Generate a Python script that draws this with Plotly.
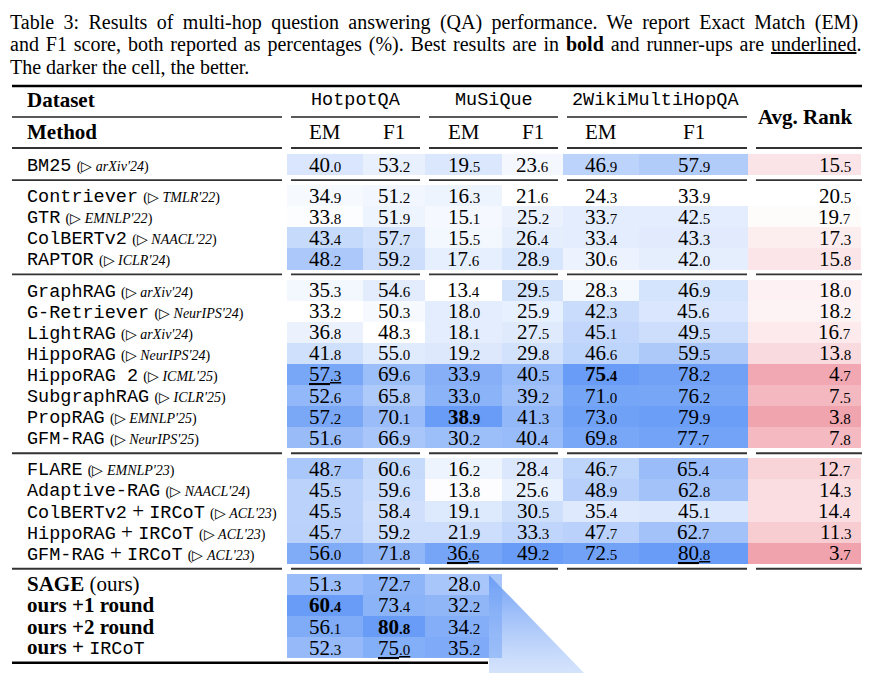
import plotly.graph_objects as go

# Table rows (in order, grouped)
methods = ["BM25",
           "Contriever", "GTR", "ColBERTv2", "RAPTOR",
           "GraphRAG", "G-Retriever", "LightRAG", "HippoRAG", "HippoRAG 2",
           "SubgraphRAG", "PropRAG", "GFM-RAG",
           "FLARE", "Adaptive-RAG", "ColBERTv2 + IRCoT", "HippoRAG + IRCoT", "GFM-RAG + IRCoT",
           "SAGE", "ours +1 round", "ours +2 round", "ours + IRCoT"]
venues = ["arXiv'24",
          "TMLR'22", "EMNLP'22", "NAACL'22", "ICLR'24",
          "arXiv'24", "NeurIPS'24", "arXiv'24", "NeurIPS'24", "ICML'25",
          "ICLR'25", "EMNLP'25", "NeurIPS'25",
          "EMNLP'23", "NAACL'24", "ACL'23", "ACL'23", "ACL'23",
          None, None, None, None]
group_sizes = [1, 4, 8, 5, 4]

hotpot_em = [40.0, 34.9, 33.8, 43.4, 48.2, 35.3, 33.2, 36.8, 41.8, 57.3, 52.6, 57.2, 51.6,
             48.7, 45.5, 45.5, 45.7, 56.0, 51.3, 60.4, 56.1, 52.3]
hotpot_f1 = [53.2, 51.2, 51.9, 57.7, 59.2, 54.6, 50.3, 48.3, 55.0, 69.6, 65.8, 70.1, 66.9,
             60.6, 59.6, 58.4, 59.2, 71.8, 72.7, 73.4, 80.8, 75.0]
musique_em = [19.5, 16.3, 15.1, 15.5, 17.6, 13.4, 18.0, 18.1, 19.2, 33.9, 33.0, 38.9, 30.2,
              16.2, 13.8, 19.1, 21.9, 36.6, 28.0, 32.2, 34.2, 35.2]
musique_f1 = [23.6, 21.6, 25.2, 26.4, 28.9, 29.5, 25.9, 27.5, 29.8, 40.5, 39.2, 41.3, 40.4,
              28.4, 25.6, 30.5, 33.3, 49.2, None, None, None, None]
wiki_em = [46.9, 24.3, 33.7, 33.4, 30.6, 28.3, 42.3, 45.1, 46.6, 75.4, 71.0, 73.0, 69.8,
           46.7, 48.9, 35.4, 47.7, 72.5, None, None, None, None]
wiki_f1 = [57.9, 33.9, 42.5, 43.3, 42.0, 46.9, 45.6, 49.5, 59.5, 78.2, 76.2, 79.9, 77.7,
           65.4, 62.8, 45.1, 62.7, 80.8, None, None, None, None]
avg_rank = [15.5, 20.5, 19.7, 17.3, 15.8, 18.0, 18.2, 16.7, 13.8, 4.7, 7.5, 3.8, 7.8,
            12.7, 14.3, 14.4, 11.3, 3.7, None, None, None, None]

datasets = ["HotpotQA", "MuSiQue", "2WikiMultiHopQA"]
metrics = ["EM", "F1", "EM", "F1", "EM", "F1"]

# best (bold) and runner-up (underlined): (row, column index)
bold_cells = [(19, 0), (20, 1), (11, 2), (9, 4)]
under_cells = [(9, 0), (21, 1), (17, 2), (17, 5)]

caption = [
    "Table 3: Results of multi-hop question answering (QA) performance. We report Exact Match (EM)",
    "and F1 score, both reported as percentages (%). Best results are in <b>bold</b> and runner-ups are <u>underlined</u>.",
    "The darker the cell, the better.",
]

SERIF = "Liberation Serif"
MONO = "Liberation Mono"

# geometry (pixel-like axis units)
col_edges = [287, 363, 425, 502, 563, 639, 748]
rank_edges = [748, 861]
row_h = 21.1
gap = 10
first_center = 164.5
segs = [(12, 282), (291, 420), (429, 558), (567, 747), (756, 862)]

# row layout
centers = []
y_edges = [first_center - row_h / 2]
row_map = []
sep_ys = []
y = y_edges[0]
i = 0
for gi, size in enumerate(group_sizes):
    for k in range(size):
        centers.append(y + row_h / 2)
        y += row_h
        y_edges.append(y)
        row_map.append(i)
        i += 1
    if gi < len(group_sizes) - 1:
        sep_ys.append(y + gap / 2)
        y += gap
        y_edges.append(y)
        row_map.append(None)
bottom_y = y + 4.5

blue_cols = [hotpot_em, hotpot_f1, musique_em, musique_f1, wiki_em, wiki_f1]


def norm(col, reverse=False):
    vals = [v for v in col if v is not None]
    lo, hi = min(vals), max(vals)
    out = []
    for v in col:
        if v is None:
            out.append(None)
        elif reverse:
            out.append((hi - v) / (hi - lo))
        else:
            out.append((v - lo) / (hi - lo))
    return out


normed = [norm(c) for c in blue_cols]
rank_n = norm(avg_rank, reverse=True)
z_blue = [[normed[c][r] for c in range(6)] if r is not None else [None] * 6 for r in row_map]
z_rank = [[rank_n[r]] if r is not None else [None] for r in row_map]

fig = go.Figure()
fig.add_trace(go.Heatmap(x=col_edges, y=y_edges, z=z_blue, zmin=0, zmax=1,
                         colorscale=[[0, "#ffffff"], [1, "rgb(104,156,246)"]],
                         showscale=False, hoverinfo="skip"))
fig.add_trace(go.Heatmap(x=rank_edges, y=y_edges, z=z_rank, zmin=0, zmax=1,
                         colorscale=[[0, "#ffffff"], [1, "rgb(240,163,173)"]],
                         showscale=False, hoverinfo="skip"))

# page-curl artefact at the bottom
fig.add_trace(go.Scatter(x=[489, 584, 489, 489], y=[575, 673, 673, 575], mode="lines",
                         line=dict(width=0), fill="toself",
                         fillgradient=dict(type="vertical",
                                           colorscale=[[0, "rgba(185,210,250,0.6)"],
                                                       [1, "rgba(105,155,245,0.95)"]]),
                         hoverinfo="skip"))

ann = []


def num_text(v, bold=False, under=False):
    s = f"{v:.1f}"
    a, b = s.split(".")
    t = f"{a}<span style='font-size:15px'>.{b}</span>"
    if bold:
        t = f"<b>{t}</b>"
    if under:
        t = f"<u>{t}</u>"
    return t


def method_text(name, venue):
    if name == "SAGE":
        return "<b>SAGE</b> (ours)"
    if name == "ours + IRCoT":
        return f"<b>ours +</b> <span style='font-family:{MONO};font-size:18.5px'>IRCoT</span>"
    if name.startswith("ours"):
        return f"<b>{name}</b>"
    parts = [f"<span style='font-family:{MONO};font-size:18.5px'>{p}</span>" for p in name.split(" + ")]
    t = " + ".join(parts)
    return t + f" <span style='font-size:14px'>(▷ <i>{venue}</i>)</span>"


for r in range(len(methods)):
    yc = centers[r]
    ann.append(dict(x=25, y=yc, text=method_text(methods[r], venues[r]), xanchor="left",
                    yanchor="middle", font=dict(family=SERIF, size=21, color="black")))
    for c, col in enumerate(blue_cols):
        v = col[r]
        if v is None:
            continue
        xc = (col_edges[c] + col_edges[c + 1]) / 2
        ann.append(dict(x=xc, y=yc, text=num_text(v, (r, c) in bold_cells, (r, c) in under_cells),
                        xanchor="center", yanchor="middle",
                        font=dict(family=SERIF, size=21, color="black")))
    if avg_rank[r] is not None:
        ann.append(dict(x=853, y=yc, text=num_text(avg_rank[r]), xanchor="right", yanchor="middle",
                        font=dict(family=SERIF, size=21, color="black")))

# headers
ann.append(dict(x=25, y=100, text="<b>Dataset</b>", xanchor="left", yanchor="middle",
                font=dict(family=SERIF, size=21, color="black")))
ann.append(dict(x=25, y=132, text="<b>Method</b>", xanchor="left", yanchor="middle",
                font=dict(family=SERIF, size=21, color="black")))
for d, name in enumerate(datasets):
    xc = (col_edges[2 * d] + col_edges[2 * d + 2]) / 2
    ann.append(dict(x=xc, y=100, text=name, xanchor="center", yanchor="middle",
                    font=dict(family=MONO, size=18.5, color="black")))
for c, m in enumerate(metrics):
    xc = (col_edges[c] + col_edges[c + 1]) / 2
    ann.append(dict(x=xc, y=132, text=m, xanchor="center", yanchor="middle",
                    font=dict(family=SERIF, size=21, color="black")))
ann.append(dict(x=(rank_edges[0] + rank_edges[1]) / 2, y=117, text="<b>Avg. Rank</b>",
                xanchor="center", yanchor="middle", font=dict(family=SERIF, size=21, color="black")))

# caption (first two lines stretched a little, like justified text)
spacing = ["word-spacing:4.4px", "word-spacing:1.9px", "word-spacing:0px"]
for k, line in enumerate(caption):
    ann.append(dict(x=8, y=22 + k * 22.5, text=f"<span style='{spacing[k]}'>{line}</span>",
                    xanchor="left", yanchor="middle",
                    font=dict(family=SERIF, size=20, color="black")))

for a in ann:
    a.update(xref="x", yref="y", showarrow=False)

# rules
shapes = [dict(type="line", x0=12, x1=862, y0=86, y1=86, line=dict(color="black", width=2.5))]
for x0, x1 in segs[:4]:
    shapes.append(dict(type="line", x0=x0, x1=x1, y0=117, y1=117, line=dict(color="#222", width=1.3)))
for yy in [148] + sep_ys:
    for x0, x1 in segs:
        shapes.append(dict(type="line", x0=x0, x1=x1, y0=yy, y1=yy, line=dict(color="#333", width=1.8)))
shapes.append(dict(type="line", x0=12, x1=488, y0=bottom_y, y1=bottom_y, line=dict(color="black", width=2.5)))
for s in shapes:
    s.update(xref="x", yref="y")

fig.update_layout(width=877, height=673, margin=dict(l=0, r=0, t=0, b=0),
                  paper_bgcolor="white", plot_bgcolor="white", showlegend=False,
                  xaxis=dict(range=[0, 877], visible=False, fixedrange=True),
                  yaxis=dict(range=[673, 0], visible=False, fixedrange=True),
                  annotations=ann, shapes=shapes)

# drop the default page margin so the figure fills the window
fig.write_html("out.html", config={"displayModeBar": False},
               post_script="document.body.style.margin='0';")
